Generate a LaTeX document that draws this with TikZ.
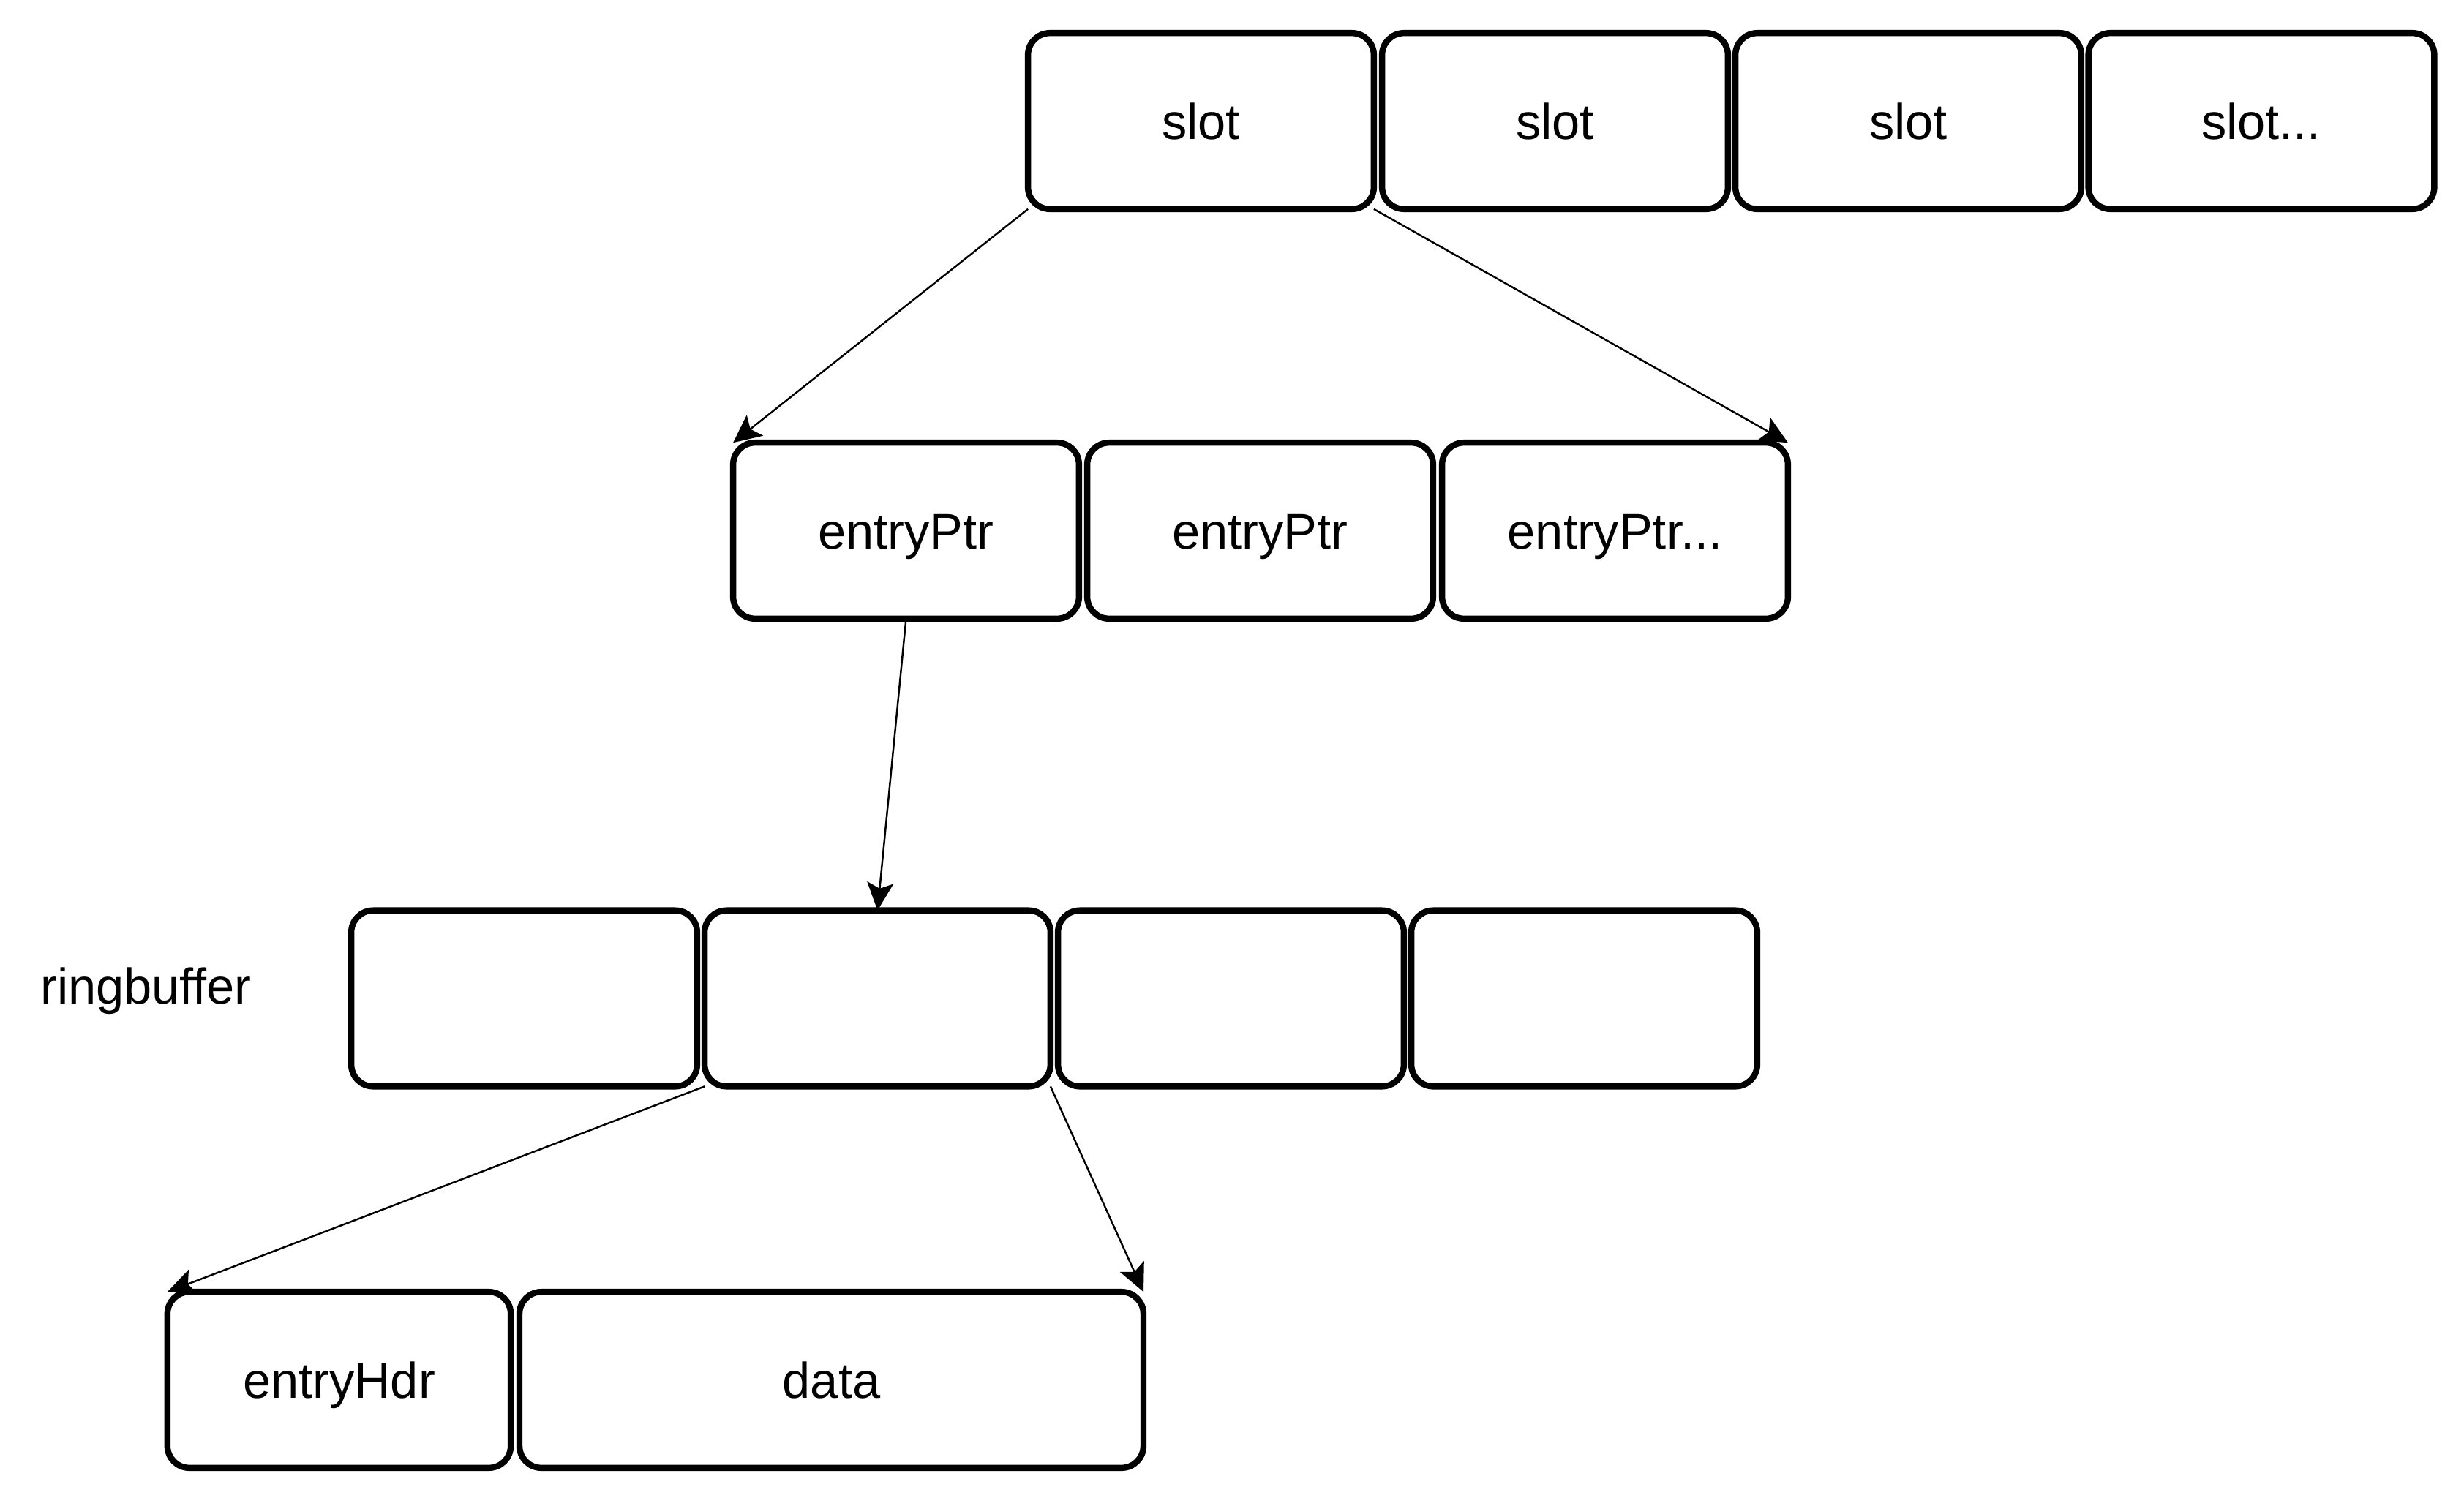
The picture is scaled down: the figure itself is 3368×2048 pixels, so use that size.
\documentclass[tikz,border=0pt]{standalone}
\usepackage{fontspec}
\setmainfont{Liberation Sans}
\usetikzlibrary{arrows.meta}

\begin{document}
\begin{tikzpicture}[x=0.01cm,y=-0.01cm]
	\tikzset{cell/.style={draw,line width=2.4pt,rounded corners=0.3cm,minimum width=#1,minimum height=2.405cm,inner sep=0pt,outer sep=0pt,font=\fontsize{19.5}{23}\selectfont,text height=18.2pt,text depth=4pt},
		cell/.default=4.725cm,
		link/.style={-{Stealth[length=0.38cm,width=0.36cm,inset=0.08cm]},line width=0.7pt}}
	\useasboundingbox (0,0) rectangle (3368,2048);
	
	% slots
	\node [cell] (S1) at (1641.5,165.5) {slot};
	\node [cell] (S2) at (2125.5,165.5) {slot};
	\node [cell] (S3) at (2608.5,165.5) {slot};
	\node [cell] (S4) at (3091,165.5) {slot...};
	
	% entry pointers
	\node [cell] (E1) at (1238.5,725.5) {entryPtr};
	\node [cell] (E2) at (1722.5,725.5) {entryPtr};
	\node [cell] (E3) at (2207.5,725.5) {entryPtr...};
	
	% ring buffer
	\node[anchor=base,font=\fontsize{19.5}{23}\selectfont] (RB) at (199.5,1372) {ringbuffer};
	\node [cell] (R1) at (716.5,1365) {};
	\node [cell] (R2) at (1199.5,1365) {};
	\node [cell] (R3) at (1682.5,1365) {};
	\node [cell] (R4) at (2165.5,1365) {};
	
	% entry
	\node [cell=4.69cm] (H) at (463.5,1886.5) {entryHdr};
	\node [cell=8.525cm] (D) at (1136.5,1886.5) {data};
	
	\draw [link] (S1.south west) -- (E1.north west);
	\draw [link] (S1.south east) -- (E3.north east);
	\draw [link] (E1.south) -- (R2.north);
	\draw [link] (R2.south west) -- (H.north west);
	\draw [link] (R2.south east) -- (D.north east);
\end{tikzpicture}
\end{document}
